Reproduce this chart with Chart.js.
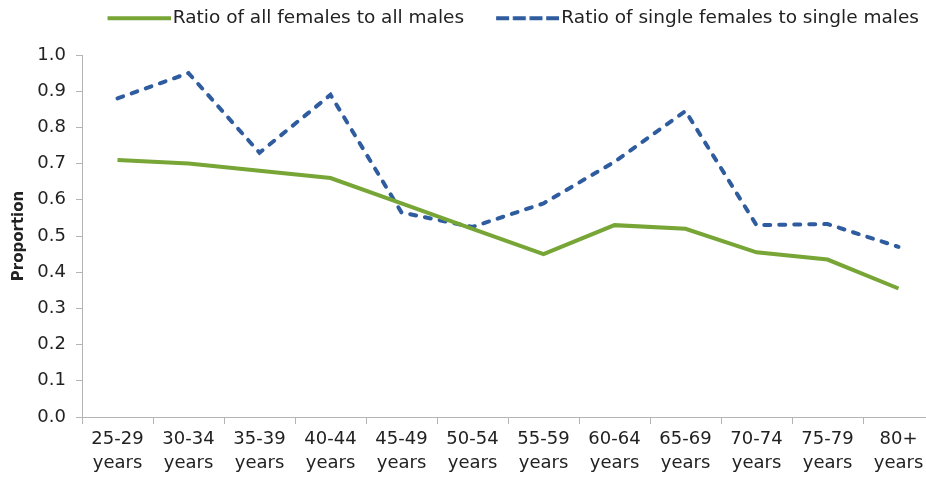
<!doctype html>
<html lang="en">
<head>
<meta charset="utf-8">
<title>Ratio of females to males by age group</title>
<style>
    * { margin: 0; padding: 0; }
    body { background: #fff; overflow: hidden; }
    .chartBox { width: 926px; height: 479px; overflow: hidden; }
</style>
</head>
<body>
<div class="chartBox">
    <canvas id="myChart" width="934" height="479"></canvas>
</div>
<script src="https://cdn.jsdelivr.net/npm/chart.js"></script>
<script>
    // data
    const ageGroups = [
        ['25-29', 'years'], ['30-34', 'years'], ['35-39', 'years'], ['40-44', 'years'],
        ['45-49', 'years'], ['50-54', 'years'], ['55-59', 'years'], ['60-64', 'years'],
        ['65-69', 'years'], ['70-74', 'years'], ['75-79', 'years'], ['80+', 'years']
    ];
    const allRatio = [0.71, 0.70, 0.68, 0.66, 0.59, 0.52, 0.45, 0.53, 0.52, 0.455, 0.435, 0.355];
    const singleRatio = [0.88, 0.95, 0.73, 0.89, 0.565, 0.525, 0.59, 0.705, 0.845, 0.53, 0.533, 0.47];
    const seriesNames = ['Ratio of all females to all males', 'Ratio of single females to single males'];

    const textColor = '#222222';
    const axisGray = '#b4b4b4';
    const greenColor = '#77a536';
    const blueColor = '#2e5c9e';

    // legend swatch: a 63px line sitting close to the label text
    function legendIcon(color, dash) {
        const c = document.createElement('canvas');
        c.width = 77;
        c.height = 6;
        const g = c.getContext('2d');
        g.strokeStyle = color;
        g.lineWidth = 4;
        g.setLineDash(dash);
        g.beginPath();
        g.moveTo(14, 3);
        g.lineTo(77, 3);
        g.stroke();
        return c;
    }

    // fix the legend height, then move the legend box after layout
    const legendNudge = {
        id: 'legendNudge',
        beforeInit(chart, args, opts) {
            const legend = chart.legend;
            const fit = legend.fit;
            legend.fit = function () {
                fit.call(this);
                this.height = opts.height;
            };
        },
        afterLayout(chart, args, opts) {
            const l = chart.legend;
            l.left += opts.dx; l.right += opts.dx;
            l.top += opts.dy; l.bottom += opts.dy;
        }
    };

    const config = {
        type: 'line',
        data: {
            labels: ageGroups,
            datasets: [{
                label: seriesNames[0],
                data: allRatio,
                borderColor: greenColor,
                backgroundColor: greenColor,
                borderWidth: 4,
                pointRadius: 0,
                pointStyle: legendIcon(greenColor, []),
                tension: 0
            }, {
                label: seriesNames[1],
                data: singleRatio,
                borderColor: blueColor,
                backgroundColor: blueColor,
                borderWidth: 4,
                borderDash: [6, 9],
                borderCapStyle: 'round',
                pointRadius: 0,
                pointStyle: legendIcon(blueColor, [13, 3.7]),
                tension: 0
            }]
        },
        options: {
            responsive: false,
            animation: false,
            devicePixelRatio: 1,
            layout: { padding: 0 },
            plugins: {
                tooltip: { enabled: false },
                legend: {
                    position: 'top',
                    align: 'end',
                    labels: {
                        usePointStyle: true,
                        pointStyleWidth: 63,
                        padding: 25,
                        color: textColor,
                        font: { family: 'DejaVu Sans', size: 18.5 }
                    }
                },
                legendNudge: { height: 55, dx: 10, dy: -16 }
            },
            scales: {
                x: {
                    offset: true,
                    grid: {
                        offset: true,
                        drawOnChartArea: false,
                        drawTicks: true,
                        tickLength: 7,
                        color: axisGray
                    },
                    border: { color: axisGray, width: 1 },
                    ticks: {
                        color: textColor,
                        font: { family: 'DejaVu Sans', size: 18, lineHeight: 1.35 },
                        padding: 3,
                        maxRotation: 0,
                        autoSkip: false
                    },
                    afterFit(scale) { scale.height = 62; }
                },
                y: {
                    min: 0,
                    max: 1,
                    grid: {
                        drawOnChartArea: false,
                        drawTicks: true,
                        tickLength: 6,
                        color: axisGray
                    },
                    border: { color: axisGray, width: 1 },
                    ticks: {
                        stepSize: 0.1,
                        color: textColor,
                        font: { family: 'DejaVu Sans', size: 18 },
                        padding: 10,
                        callback: v => v.toFixed(1)
                    },
                    title: {
                        display: true,
                        text: 'Proportion',
                        color: textColor,
                        font: { family: 'DejaVu Sans', size: 15, weight: 'bold' },
                        padding: { top: 10, bottom: 0 }
                    },
                    afterFit(scale) { scale.width = 82; }
                }
            }
        },
        plugins: [legendNudge]
    };

    const myChart = new Chart(document.getElementById('myChart'), config);
</script>
</body>
</html>
